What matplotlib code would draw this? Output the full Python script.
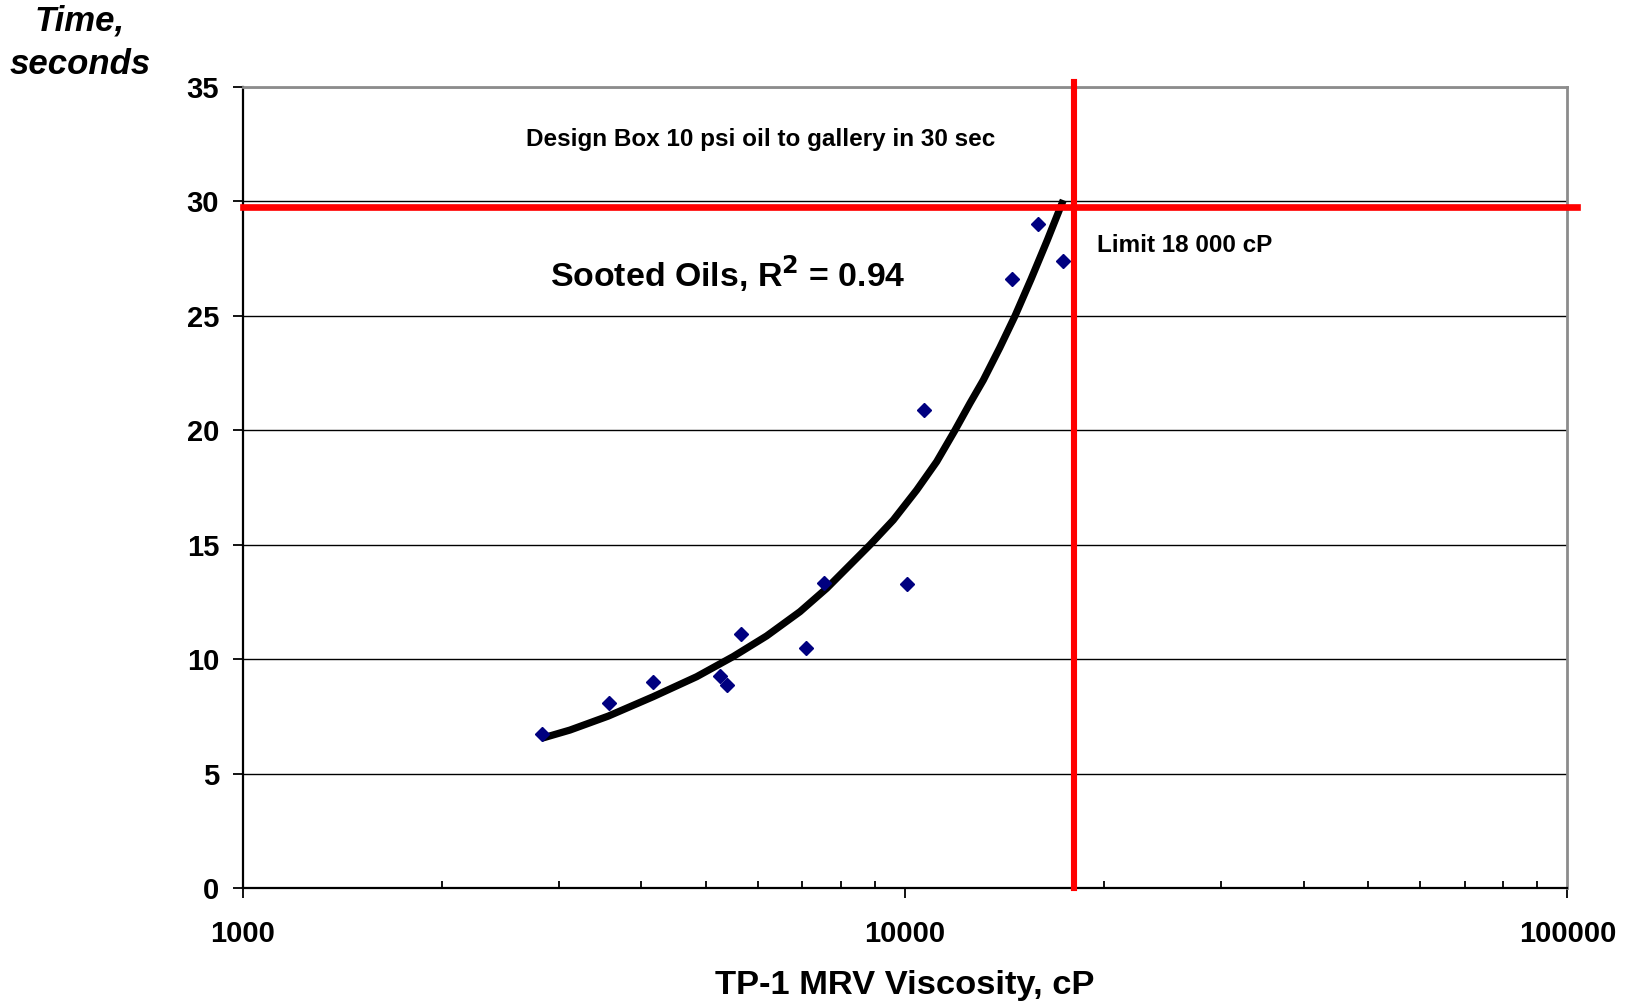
import numpy as np
import matplotlib.pyplot as plt
import matplotlib as mpl
from matplotlib.ticker import LogLocator, FixedLocator, NullFormatter

mpl.rcParams['font.family'] = ['Liberation Sans', 'DejaVu Sans']
mpl.rcParams['font.weight'] = 'bold'

# measured oils (MRV viscosity cP, time to 10 psi at gallery s)
visc = [2828, 3574, 4169, 5257, 5381, 5647, 7088, 7546, 10056, 10683, 14496, 15897, 17338]
time_s = [6.74, 8.10, 8.99, 9.27, 8.88, 11.10, 10.51, 13.32, 13.29, 20.88, 26.60, 29.01, 27.40]

# trend line
trend_visc = [2828, 3120, 3565, 4169, 4847, 5504, 6182, 6942, 7618, 8260, 8857, 9601,
              10416, 11166, 11898, 12534, 13130, 13900, 14663, 15500, 16400, 17338]
trend_time = [6.55, 6.91, 7.52, 8.37, 9.24, 10.12, 11.02, 12.08, 13.10, 14.12, 15.0, 16.08,
              17.39, 18.63, 20.0, 21.18, 22.19, 23.6, 25.0, 26.6, 28.3, 30.05]

visc_limit = 18000
time_limit = 29.73

fig = plt.figure(figsize=(16.34, 10.05), dpi=100)
ax = fig.add_axes((0.1485, 0.1161, 0.8107, 0.7976))

ax.set_xscale('log')
ax.set_xlim(1000, 100000)
ax.set_ylim(0, 35)

ax.yaxis.set_major_locator(FixedLocator(np.arange(0, 36, 5)))
ax.grid(axis='y', color='black', lw=1.0)
ax.set_axisbelow(True)

ax.plot(trend_visc, trend_time, color='black', lw=5.2, solid_capstyle='butt',
        solid_joinstyle='round', zorder=3)
ax.plot(visc, time_s, ls='none', marker='D', ms=7.5, color='#000080', zorder=4)

ax.plot([1000, 103300], [time_limit, time_limit], color='#ff0000', lw=4.8, clip_on=False, zorder=5)
ax.plot([visc_limit, visc_limit], [0, 35.2], color='#ff0000', lw=4.4, clip_on=False, zorder=5)

for side in ['top', 'right']:
    ax.spines[side].set_color('#8c8c8c')
    ax.spines[side].set_linewidth(2)
for side in ['left', 'bottom']:
    ax.spines[side].set_color('black')
    ax.spines[side].set_linewidth(1.6)

ax.xaxis.set_major_locator(LogLocator(base=10))
ax.xaxis.set_minor_locator(LogLocator(base=10, subs=np.arange(2, 10)))
ax.xaxis.set_minor_formatter(NullFormatter())
ax.set_xticks([1000, 10000, 100000])
ax.set_xticklabels(['1000', '10000', '100000'])

ax.tick_params(axis='x', which='major', direction='out', length=7, width=1.3, labelsize=21, pad=16)
ax.tick_params(axis='x', which='minor', direction='in', length=5, width=1.3)
ax.tick_params(axis='y', which='major', direction='out', length=7, width=1.3, labelsize=21, pad=10)
for lab in ax.get_xticklabels() + ax.get_yticklabels():
    lab.set_fontweight('bold')

ax.set_xlabel('TP-1 MRV Viscosity, cP', fontsize=24.8, fontweight='bold', labelpad=16)

fig.text(80 / 1634, 1 - 21 / 1005, 'Time,', ha='center', va='center', fontsize=25,
         fontweight='bold', fontstyle='italic')
fig.text(80 / 1634, 1 - 64 / 1005, 'seconds', ha='center', va='center', fontsize=25,
         fontweight='bold', fontstyle='italic')

fig.text(761 / 1634, 1 - 139 / 1005, 'Design Box 10 psi oil to gallery in 30 sec', ha='center',
         va='center', fontsize=17.5, fontweight='bold')
fig.text(728 / 1634, 1 - 274 / 1005, r'Sooted Oils, R$^\mathbf{2}$ = 0.94', ha='center',
         va='center', fontsize=24.4, fontweight='bold')
fig.text(1097 / 1634, 1 - 246 / 1005, 'Limit 18 000 cP', ha='left', va='center',
         fontsize=17.5, fontweight='bold')

fig.savefig('out.png', dpi=100)
